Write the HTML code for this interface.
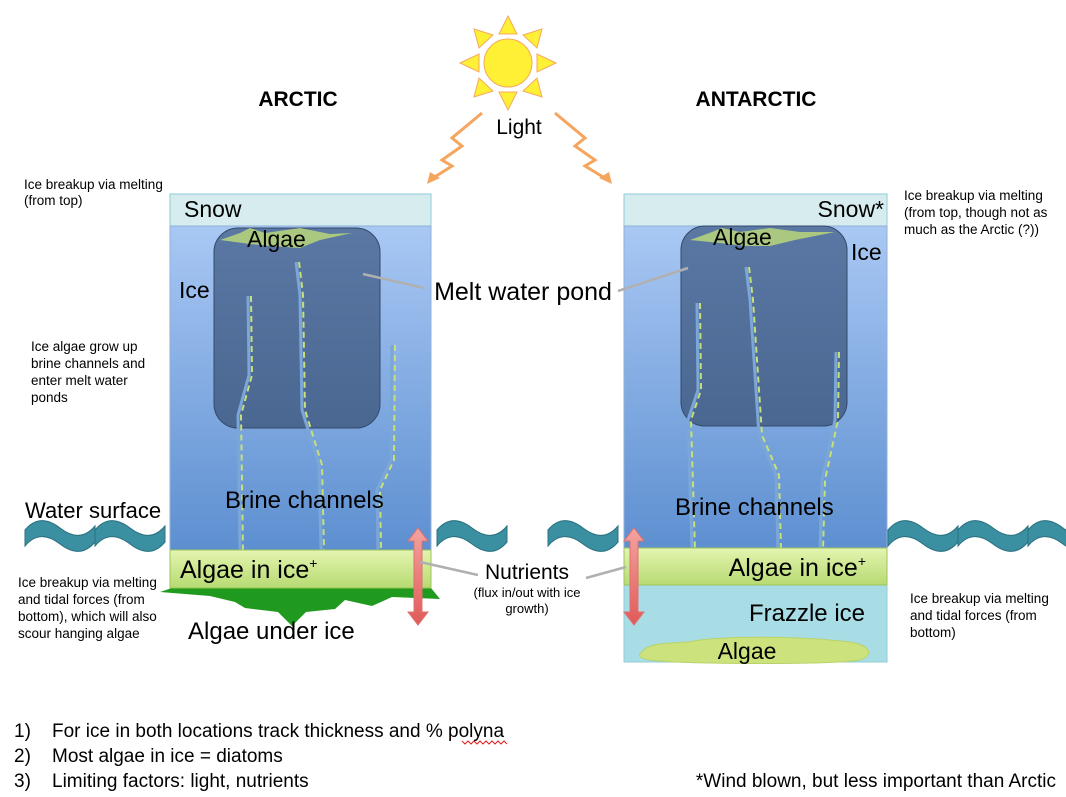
<!DOCTYPE html>
<html><head><meta charset="utf-8"><style>
body{margin:0;background:#fff}
svg{display:block;font-family:"Liberation Sans",sans-serif}
.s{font-size:13.5px}
.m{font-size:23px}
</style></head><body>
<svg width="1066" height="797" viewBox="0 0 1066 797">
<defs>
<linearGradient id="ice" x1="0" y1="0" x2="0" y2="1"><stop offset="0" stop-color="#a9c8f4"/><stop offset="1" stop-color="#5d8fd0"/></linearGradient>
<linearGradient id="pond" x1="0" y1="0" x2="0" y2="1"><stop offset="0" stop-color="#5a78a3"/><stop offset="1" stop-color="#4a6792"/></linearGradient>
<linearGradient id="grn" x1="0" y1="0" x2="0" y2="1"><stop offset="0" stop-color="#e4f5b0"/><stop offset="1" stop-color="#b7da72"/></linearGradient>
<linearGradient id="arr" x1="0" y1="0" x2="0" y2="1"><stop offset="0" stop-color="#f4a4a0"/><stop offset="1" stop-color="#e05a58"/></linearGradient>
<g id="wave"><path d="M0,10 C10,-2 22,-2 35,8 C48,18 60,18 70,6 L70,22 C60,34 48,34 35,24 C22,14 10,14 0,26 Z" fill="#3a8fa0" stroke="#2a7080" stroke-width="1"/></g>
</defs>
<!-- sun -->
<g fill="#fef135" stroke="#f5a860" stroke-width="1">
<circle cx="508" cy="63" r="24"/>
<polygon points="508,16 499,34 517,34"/><polygon points="508,110 499,92 517,92"/>
<polygon points="460,63 479,54 479,72"/><polygon points="556,63 537,54 537,72"/>
<polygon points="474,29 479,48 493,35"/><polygon points="542,29 537,48 523,35"/>
<polygon points="474,97 479,78 493,91"/><polygon points="542,97 537,78 523,91"/>
</g>
<text x="519" y="134" text-anchor="middle" style="font-size:21px">Light</text>
<g fill="none" stroke="#f5a55e" stroke-width="3">
<polyline points="482,113 452,138 462,146 442,160 452,166 430,180"/>
<polyline points="555,113 585,138 575,146 595,160 585,166 608,180"/>
</g>
<polygon points="427,184 430,172 440,178" fill="#f5a55e"/>
<polygon points="612,184 609,172 599,178" fill="#f5a55e"/>
<text x="298" y="106" text-anchor="middle" font-weight="bold" font-size="21">ARCTIC</text>
<text x="756" y="106" text-anchor="middle" font-weight="bold" font-size="21">ANTARCTIC</text>
<!-- LEFT column -->
<rect x="170" y="194" width="261" height="32" fill="#d6ecef" stroke="#8fcdd6"/>
<text x="184" y="217" class="m">Snow</text>
<rect x="170" y="226" width="261" height="324" fill="url(#ice)" stroke="#8fb0d8"/>
<rect x="214" y="228" width="166" height="200" rx="24" fill="url(#pond)" stroke="#34496a"/>
<polygon points="220,240 240,233 250,228 265,233 300,228 330,234 352,233 320,240 300,248 270,246 250,244" fill="#b4d07d" opacity="0.9"/>
<text x="247" y="247" class="m">Algae</text>
<text x="179" y="298" class="m">Ice</text>
<g fill="none" stroke-width="3">
<g stroke="#7ba6d8"><path d="M248,296 L249,375 L238,415 L240,550"/><path d="M296,262 L300,295 L302,410 L319,465 L321,550"/><path d="M392,345 L391,460 L377,490 L378,550"/></g>
<g stroke="#c8e07a" stroke-width="2" stroke-dasharray="6,4"><path d="M251,296 L252,375 L241,415 L243,550"/><path d="M299,262 L303,295 L305,410 L322,465 L324,550"/><path d="M395,345 L394,460 L380,490 L381,550"/></g>
</g>
<text x="225" y="508" style="font-size:24px">Brine channels</text>
<polygon points="172,588 160,592 210,596 235,602 245,608 278,612 292,626 306,612 335,609 345,600 372,606 392,597 440,599 431,588" fill="#1f9a1f"/>
<rect x="170" y="550" width="261" height="38" fill="url(#grn)" stroke="#9bc45a"/>
<text x="180" y="578" style="font-size:25px">Algae in ice<tspan font-size="14" dy="-10">+</tspan></text>
<text x="188" y="639" style="font-size:24px">Algae under ice</text>
<!-- RIGHT column -->
<rect x="624" y="194" width="263" height="32" fill="#d6ecef" stroke="#8fcdd6"/>
<text x="884" y="217" class="m" text-anchor="end">Snow*</text>
<rect x="624" y="226" width="263" height="324" fill="url(#ice)" stroke="#8fb0d8"/>
<rect x="681" y="226" width="166" height="200" rx="24" fill="url(#pond)" stroke="#34496a"/>
<polygon points="690,240 712,232 722,228 740,232 770,228 800,232 835,232 795,240 770,246 745,246 720,243" fill="#b4d07d" opacity="0.9"/>
<text x="713" y="245" class="m">Algae</text>
<text x="851" y="260" class="m">Ice</text>
<g fill="none" stroke-width="3">
<g stroke="#7ba6d8"><path d="M697,303 L698,390 L688,420 L692,550"/><path d="M746,267 L750,300 L759,435 L776,475 L778,550"/><path d="M836,352 L835,420 L822,480 L820,550"/></g>
<g stroke="#c8e07a" stroke-width="2" stroke-dasharray="6,4"><path d="M700,303 L701,390 L691,420 L695,550"/><path d="M749,267 L753,300 L762,435 L779,475 L781,550"/><path d="M839,352 L838,420 L825,480 L823,550"/></g>
</g>
<text x="675" y="515" style="font-size:24px">Brine channels</text>
<rect x="624" y="585" width="263" height="77" fill="#a8dde6" stroke="#8fcdd6"/>
<rect x="624" y="548" width="263" height="37" fill="url(#grn)" stroke="#9bc45a"/>
<text x="866" y="576" text-anchor="end" style="font-size:25px">Algae in ice<tspan font-size="14" dy="-10">+</tspan></text>
<text x="865" y="621" text-anchor="end" style="font-size:24px">Frazzle ice</text>
<path d="M642,652 C650,640 680,645 700,640 C730,636 800,636 850,642 C870,645 875,655 860,660 C830,665 700,664 660,661 C640,660 636,656 642,652 Z" fill="#cce27d" stroke="#b9d36a"/>
<text x="747" y="659" class="m" text-anchor="middle">Algae</text>
<!-- arrows -->
<polygon points="418,528 428,541 422,541 422,612 428,612 418,625 408,612 414,612 414,541 408,541" fill="url(#arr)" stroke="#e07070"/>
<polygon points="634,528 644,541 638,541 638,612 644,612 634,625 624,612 630,612 630,541 624,541" fill="url(#arr)" stroke="#e07070"/>
<!-- pointer lines -->
<g stroke="#b0b0b0" stroke-width="2.5"><line x1="363" y1="274" x2="424" y2="288"/><line x1="618" y1="291" x2="688" y2="268"/><line x1="420" y1="562" x2="478" y2="575"/><line x1="586" y1="578" x2="626" y2="567"/></g>
<text x="523" y="300" text-anchor="middle" style="font-size:25px">Melt water pond</text>
<text x="527" y="579" font-size="21" text-anchor="middle">Nutrients</text>
<text x="527" y="597" font-size="13" text-anchor="middle">(flux in/out with ice</text>
<text x="527" y="613" font-size="13" text-anchor="middle">growth)</text>
<!-- waves -->
<use href="#wave" x="25" y="520"/><use href="#wave" x="95" y="520"/>
<use href="#wave" x="437" y="520"/><use href="#wave" x="548" y="520"/>
<use href="#wave" x="888" y="520"/><use href="#wave" x="958" y="520"/><use href="#wave" x="1028" y="520"/>
<text x="25" y="518" style="font-size:22px">Water surface</text>
<!-- side notes -->
<g class="s">
<text x="24" y="189">Ice breakup via melting</text><text x="24" y="205">(from top)</text>
<text x="31" y="351" >Ice algae grow up</text><text x="31" y="368">brine channels and</text><text x="31" y="385">enter melt water</text><text x="31" y="402">ponds</text>
<text x="18" y="587">Ice breakup via melting</text><text x="18" y="604">and tidal forces (from</text><text x="18" y="621">bottom), which will also</text><text x="18" y="638">scour hanging algae</text>
<text x="904" y="200">Ice breakup via melting</text><text x="904" y="217">(from top, though not as</text><text x="904" y="234">much as the Arctic (?))</text>
<text x="910" y="603">Ice breakup via melting</text><text x="910" y="620">and tidal forces (from</text><text x="910" y="637">bottom)</text>
</g>
<g font-size="19">
<text x="14" y="737">1)</text><text x="52" y="737">For ice in both locations track thickness and % polyna</text>
<text x="14" y="762">2)</text><text x="52" y="762">Most algae in ice = diatoms</text>
<text x="14" y="787">3)</text><text x="52" y="787">Limiting factors: light, nutrients</text>
<text x="1056" y="787" text-anchor="end">*Wind blown, but less important than Arctic</text>
</g>
<path d="M462,741 l3,3 l3,-3 l3,3 l3,-3 l3,3 l3,-3 l3,3 l3,-3 l3,3 l3,-3 l3,3 l3,-3 l3,3 l3,-3 l3,3" fill="none" stroke="#e02020" stroke-width="1"/>
</svg>
</body></html>
